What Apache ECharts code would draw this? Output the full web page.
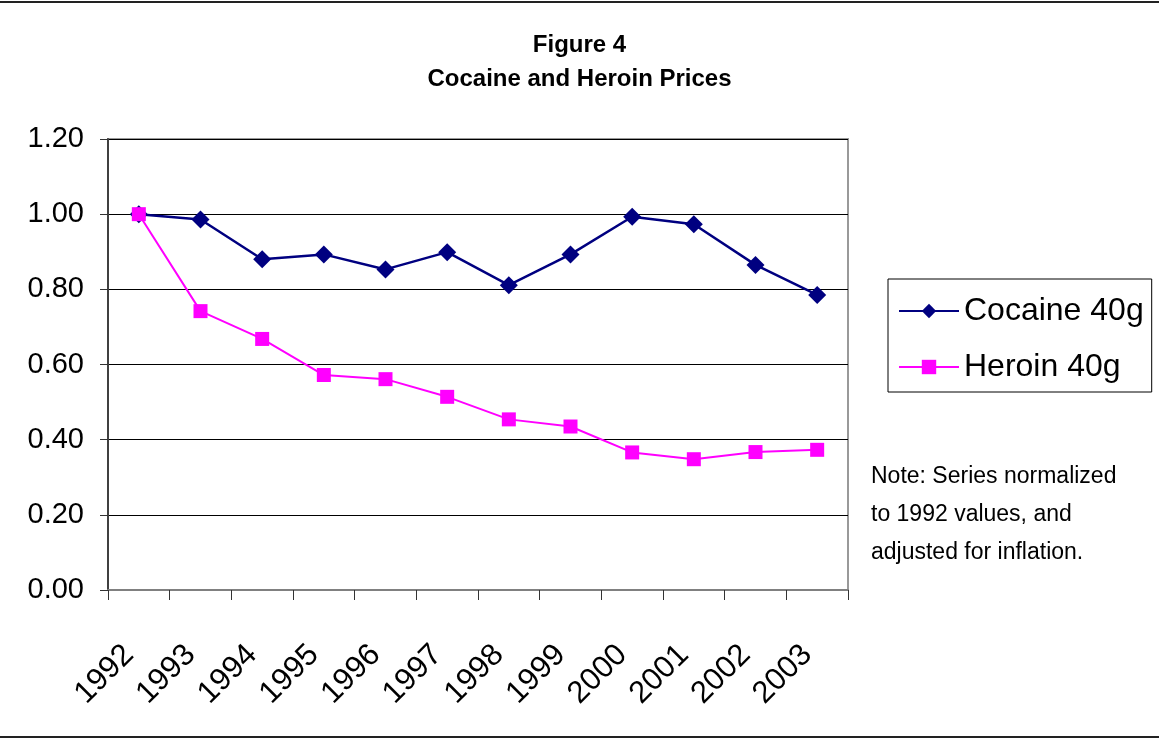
<!DOCTYPE html>
<html>
<head>
<meta charset="utf-8">
<script src="https://cdn.jsdelivr.net/npm/echarts@6/dist/echarts.min.js"></script>
<style>
  html, body { margin: 0; padding: 0; background: #fff; }
  #chart { width: 1159px; height: 740px; }
</style>
</head>
<body>
<div id="chart"></div>
<script>
var years = ['1992', '1993', '1994', '1995', '1996', '1997', '1998', '1999', '2000', '2001', '2002', '2003'];
var cocaine = [1.00, 0.986, 0.880, 0.893, 0.853, 0.899, 0.811, 0.893, 0.993, 0.973, 0.865, 0.785];
var heroin = [1.00, 0.742, 0.668, 0.572, 0.561, 0.514, 0.454, 0.435, 0.366, 0.348, 0.367, 0.373];
var noteLines = ['Note: Series normalized', 'to 1992 values, and', 'adjusted for inflation.'];

var fontFam = "'Liberation Sans', Arial, sans-serif";

var chart = echarts.init(document.getElementById('chart'));

var option = {
    backgroundColor: '#fff',
    animation: false,
    title: {
        text: 'Figure 4',
        subtext: 'Cocaine and Heroin Prices',
        left: 'center',
        top: 28,
        itemGap: 10,
        textStyle: { fontFamily: fontFam, fontSize: 24, fontWeight: 'bold', color: '#000' },
        subtextStyle: { fontFamily: fontFam, fontSize: 24, fontWeight: 'bold', color: '#000' }
    },
    grid: {
        left: 108,
        top: 139,
        width: 740,
        height: 451,
        show: true,
        borderColor: '#999',
        borderWidth: 2
    },
    legend: {
        left: 888,
        top: 279,
        orient: 'vertical',
        padding: [16, 8, 9, 10],
        itemGap: 24,
        itemWidth: 60,
        itemHeight: 18,
        borderColor: '#000',
        borderWidth: 1,
        textStyle: { fontFamily: fontFam, fontSize: 32, color: '#000' },
        data: ['Cocaine 40g', 'Heroin 40g']
    },
    xAxis: {
        type: 'category',
        data: years,
        boundaryGap: true,
        axisLine: { lineStyle: { color: '#808080', width: 2 } },
        axisTick: { show: true, length: 10, interval: 0, lineStyle: { color: '#333' } },
        axisLabel: {
            interval: 0,
            rotate: 45,
            margin: 50,
            padding: [0, 14, 0, 0],
            fontFamily: fontFam,
            fontSize: 31,
            color: '#000'
        },
        splitLine: { show: false }
    },
    yAxis: {
        type: 'value',
        min: 0,
        max: 1.2,
        interval: 0.2,
        axisLine: { show: true, lineStyle: { color: '#404040', width: 2 } },
        axisTick: { show: true, length: 8, lineStyle: { color: '#333' } },
        axisLabel: {
            margin: 24,
            fontFamily: fontFam,
            fontSize: 29,
            color: '#000',
            formatter: function (v) { return v.toFixed(2); }
        },
        splitLine: { show: true, lineStyle: { color: '#000', width: 1 } }
    },
    series: [
        {
            name: 'Cocaine 40g',
            type: 'line',
            data: cocaine,
            symbol: 'diamond',
            symbolSize: 18,
            color: '#000080',
            lineStyle: { color: '#000080', width: 2.5 },
            itemStyle: { color: '#000080' },
            z: 3
        },
        {
            name: 'Heroin 40g',
            type: 'line',
            data: heroin,
            symbol: 'rect',
            symbolSize: 14,
            color: '#FF00FF',
            lineStyle: { color: '#FF00FF', width: 2 },
            itemStyle: { color: '#FF00FF' },
            z: 4
        }
    ],
    graphic: [
        {
            type: 'text',
            left: 871,
            top: 458,
            style: {
                text: noteLines.join('\n'),
                fontFamily: fontFam,
                fontSize: 23,
                lineHeight: 38,
                fill: '#000'
            }
        },
        {
            type: 'line',
            shape: { x1: 0, y1: 2, x2: 1159, y2: 2 },
            style: { stroke: '#222', lineWidth: 2 }
        },
        {
            type: 'line',
            shape: { x1: 0, y1: 737, x2: 1159, y2: 737 },
            style: { stroke: '#222', lineWidth: 2 }
        }
    ]
};

chart.setOption(option);
</script>
</body>
</html>
